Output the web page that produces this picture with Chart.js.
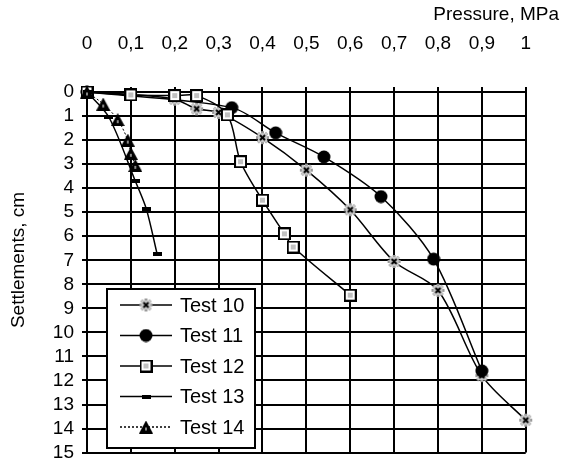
<!DOCTYPE html>
<html>
<head>
<meta charset="utf-8">
<script src="https://cdn.jsdelivr.net/npm/chart.js@4/dist/chart.umd.min.js"></script>
<style>
  body { margin: 0; background: #fff; }
</style>
</head>
<body>
<canvas id="settleChart" width="563" height="472"></canvas>
<script>
// data
var testNames = ["Test 10", "Test 11", "Test 12", "Test 13", "Test 14"];
var pressureTicks = ["0", "0,1", "0,2", "0,3", "0,4", "0,5", "0,6", "0,7", "0,8", "0,9", "1"];

var pressure10 = [0, 0.1, 0.2, 0.25, 0.3, 0.4, 0.5, 0.6, 0.7, 0.8, 0.9, 1.0];
var settle10 = [0, 0.1, 0.3, 0.7, 0.85, 1.9, 3.25, 4.9, 7.05, 8.25, 11.8, 13.65];

var pressure11 = [0, 0.33, 0.43, 0.54, 0.67, 0.79, 0.9];
var settle11 = [0, 0.65, 1.7, 2.7, 4.35, 6.95, 11.6];

var pressure12 = [0, 0.1, 0.2, 0.25, 0.32, 0.35, 0.4, 0.45, 0.47, 0.6];
var settle12 = [0, 0.12, 0.15, 0.15, 0.95, 2.9, 4.5, 5.9, 6.45, 8.45];

var pressure13 = [0, 0.05, 0.11, 0.135, 0.16];
var settle13 = [0, 1.05, 3.7, 4.85, 6.75];

var pressure14 = [0, 0.037, 0.07, 0.093, 0.1, 0.11];
var settle14 = [0, 0.5, 1.15, 2.0, 2.55, 3.05];

var FONT = "'Liberation Sans', Arial, sans-serif";

//点的坐标
function toPoints(xs, ys) {
    var pts = [];
    for (var i = 0; i < xs.length; i++) {
        pts.push({x: xs[i], y: ys[i]});
    }
    return pts;
}

//小画布做标记
function makeMarker(w, h, draw) {
    var c = document.createElement("canvas");
    c.width = w;
    c.height = h;
    draw(c.getContext("2d"), w, h);
    return c;
}

var marker10 = makeMarker(15, 15, function (ctx, w, h) {
    ctx.strokeStyle = "#9a9a9a";
    ctx.lineWidth = 3;
    for (var a = 0; a < 4; a++) {
        var ang = a * Math.PI / 4;
        ctx.beginPath();
        ctx.moveTo(7.5 - Math.cos(ang) * 6.5, 7.5 - Math.sin(ang) * 6.5);
        ctx.lineTo(7.5 + Math.cos(ang) * 6.5, 7.5 + Math.sin(ang) * 6.5);
        ctx.stroke();
    }
    ctx.fillStyle = "#c8c8c8";
    ctx.fillRect(3, 3, 9, 9);
    ctx.strokeStyle = "#000";
    ctx.lineWidth = 2;
    ctx.beginPath();
    ctx.moveTo(5, 5); ctx.lineTo(10, 10);
    ctx.moveTo(10, 5); ctx.lineTo(5, 10);
    ctx.stroke();
});
var marker11 = makeMarker(14, 14, function (ctx) {
    ctx.fillStyle = "#000";
    ctx.beginPath();
    ctx.arc(7, 7, 6.5, 0, Math.PI * 2);
    ctx.fill();
});
var marker12 = makeMarker(13, 13, function (ctx) {
    ctx.fillStyle = "#000";
    ctx.fillRect(0, 0, 13, 13);
    ctx.fillStyle = "#fff";
    ctx.fillRect(2, 2, 9, 9);
    ctx.fillStyle = "#c0c0c0";
    ctx.fillRect(4, 4, 5, 5);
});
var marker13 = makeMarker(9, 4, function (ctx) {
    ctx.fillStyle = "#000";
    ctx.fillRect(0, 0, 9, 4);
});
var marker14 = makeMarker(14, 13, function (ctx) {
    ctx.fillStyle = "#000";
    ctx.beginPath();
    ctx.moveTo(7, 0);
    ctx.lineTo(14, 13);
    ctx.lineTo(0, 13);
    ctx.closePath();
    ctx.fill();
    ctx.fillStyle = "#888";
    ctx.fillRect(6, 7, 2, 3);
});
var markers = [marker10, marker11, marker12, marker13, marker14];
var dashes = [[], [], [], [], [2, 2]];

//轴标题和图内图例
var boxLegend = {
    id: "boxLegend",
    afterDraw: function (chart) {
        var ctx = chart.ctx;
        ctx.save();
        ctx.fillStyle = "#000";
        ctx.font = "19px " + FONT;
        ctx.textBaseline = "middle";
        ctx.textAlign = "right";
        ctx.fillText("Pressure, MPa", 559, 15);
        ctx.save();
        ctx.translate(19, 260);
        ctx.rotate(-Math.PI / 2);
        ctx.textAlign = "center";
        ctx.fillText("Settlements, cm", 0, 0);
        ctx.restore();

        var left = 107, top = 289, w = 148, h = 159;
        ctx.fillStyle = "#fff";
        ctx.fillRect(left, top, w, h);
        ctx.strokeStyle = "#000";
        ctx.lineWidth = 2;
        ctx.strokeRect(left, top, w, h);
        ctx.font = "20px " + FONT;
        ctx.textAlign = "left";
        for (var i = 0; i < testNames.length; i++) {
            var y = top + 16 + i * 30.5;
            ctx.strokeStyle = "#000";
            ctx.lineWidth = 1.5;
            ctx.setLineDash(dashes[i]);
            ctx.beginPath();
            ctx.moveTo(left + 13, y);
            ctx.lineTo(left + 65, y);
            ctx.stroke();
            ctx.setLineDash([]);
            var m = markers[i];
            ctx.drawImage(m, left + 39 - m.width / 2, y - m.height / 2);
            ctx.fillStyle = "#000";
            ctx.fillText(testNames[i], left + 73, y + 1);
        }
        ctx.restore();
    }
};

function initChart() {
    var xs = [pressure10, pressure11, pressure12, pressure13, pressure14];
    var ys = [settle10, settle11, settle12, settle13, settle14];
    var datasets = [];
    for (var i = 0; i < testNames.length; i++) {
        datasets.push({
            label: testNames[i],
            data: toPoints(xs[i], ys[i]),
            showLine: true,
            borderColor: "#000",
            borderWidth: i == 4 ? 1 : 1.5,
            borderDash: dashes[i],
            tension: 0.3,
            pointStyle: markers[i],
            pointRadius: 6,
            clip: false
        });
    }
    var ctx = document.getElementById("settleChart").getContext("2d");
    new Chart(ctx, {
        type: "scatter",
        data: {datasets: datasets.reverse()},
        options: {
            responsive: false,
            animation: false,
            events: [],
            layout: {padding: {left: 0, right: 13, top: 0, bottom: 9}},
            plugins: {legend: {display: false}, tooltip: {enabled: false}},
            scales: {
                x: {
                    type: "linear",
                    position: "top",
                    min: 0,
                    max: 1,
                    afterFit: function (scale) { scale.height = 92; },
                    ticks: {
                        stepSize: 0.1,
                        padding: 32,
                        autoSkip: false,
                        color: "#000",
                        font: {family: FONT, size: 19},
                        maxRotation: 0,
                        callback: function (value, index) { return pressureTicks[index]; }
                    },
                    grid: {color: "#000", lineWidth: 2, tickLength: 5},
                    border: {color: "#000", width: 2}
                },
                y: {
                    type: "linear",
                    reverse: true,
                    min: 0,
                    max: 15,
                    afterFit: function (scale) { scale.width = 87; },
                    ticks: {
                        stepSize: 1,
                        padding: 8,
                        autoSkip: false,
                        color: "#000",
                        font: {family: FONT, size: 19}
                    },
                    grid: {color: "#000", lineWidth: 2, tickLength: 5},
                    border: {color: "#000", width: 2}
                }
            }
        },
        plugins: [boxLegend]
    });
}

initChart();
</script>
</body>
</html>
